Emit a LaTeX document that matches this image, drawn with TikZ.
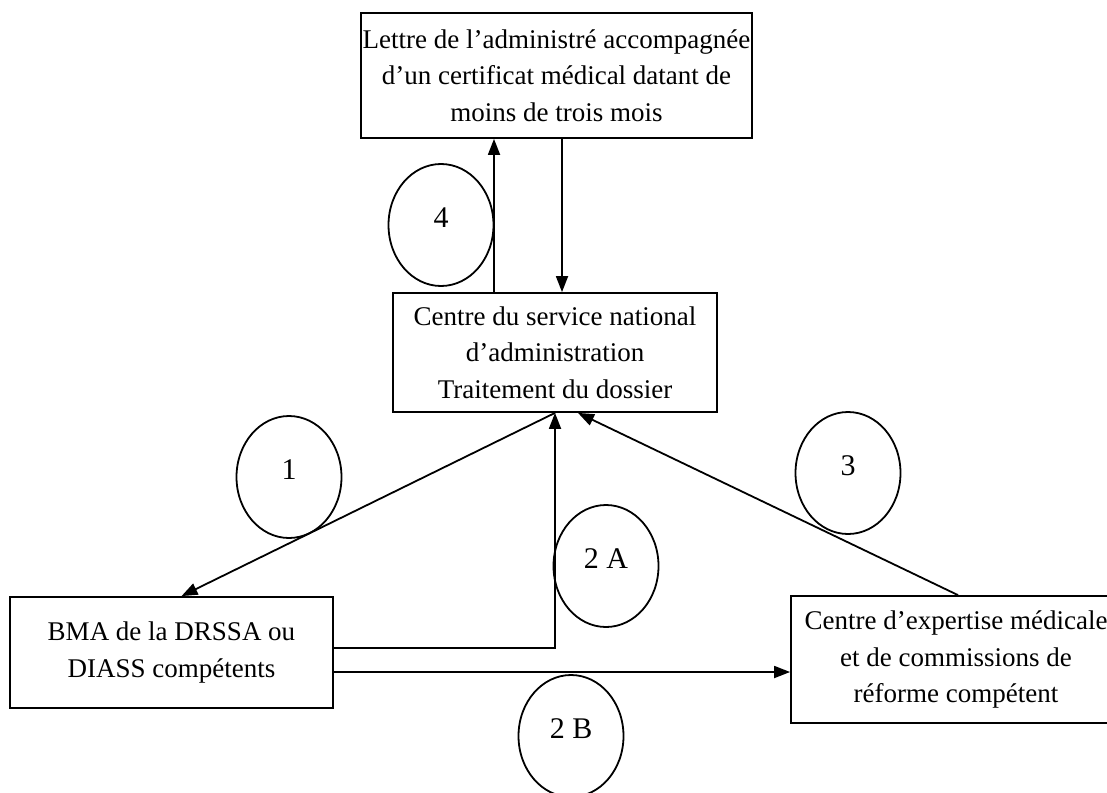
\documentclass[tikz,border=0pt]{standalone}
\usepackage{fontspec}
\setmainfont{Liberation Serif}
\usetikzlibrary{arrows.meta, positioning, shapes.geometric}

\tikzset{
  box/.style={draw, line width=1.8pt, rectangle, inner sep=0pt, align=center,
    font=\fontsize{27}{36.5}\selectfont},
  step num/.style={draw, line width=1.8pt, ellipse, inner sep=0pt,
    minimum width=105pt, minimum height=122pt, text depth=14pt,
    font=\fontsize{30}{32}\selectfont},
  arr/.style={line width=1.8pt, -{Triangle[length=16pt,width=12pt]}}
}

\begin{document}
\begin{tikzpicture}[x=1pt, y=-1pt]
    \useasboundingbox (0,0) rectangle (1107,792);

    % Boxes
    \node[box, minimum width=391pt, minimum height=125pt] (lettre) at (556.5, 75.5)
        {Lettre de l'administré accompagnée\\d'un certificat médical datant de\\moins de trois mois};
    \node[box, minimum width=324pt, minimum height=119pt] (cnat) at (555, 352.5)
        {Centre du service national\\d'administration\\Traitement du dossier};
    \node[box, minimum width=323pt, minimum height=111pt] (bma) at (171.5, 652.5)
        {BMA de la DRSSA ou\\DIASS compétents};
    \node[box, minimum width=330pt, minimum height=127pt] (cem) at (956, 659.5)
        {Centre d'expertise médicale\\et de commissions de\\réforme compétent};

    % Step numbers
    \node[step num] (s4) at (441, 225) {4};
    \node[step num] (s1) at (289, 477) {1};
    \node[step num] (s2a) at (606, 566) {2 A};
    \node[step num] (s3) at (848, 473) {3};
    \node[step num] (s2b) at (571, 736) {2 B};

    % Connections
    \draw[arr] ([xshift=-61pt]cnat.north) -- ([xshift=-61pt]cnat.north |- lettre.south);
    \draw[arr] ([xshift=7pt]cnat.north |- lettre.south) -- ([xshift=7pt]cnat.north);
    \draw[arr] (cnat.south) -- ([xshift=10pt]bma.north);
    \draw[arr] ([yshift=4.5pt]bma.east) -| (cnat.south);
    \draw[arr] ([yshift=-19.5pt]bma.east) -- ([yshift=-19.5pt]bma.east -| cem.west);
    \draw[arr] ([xshift=2pt]cem.north) -- ([xshift=23pt]cnat.south);
\end{tikzpicture}
\end{document}
